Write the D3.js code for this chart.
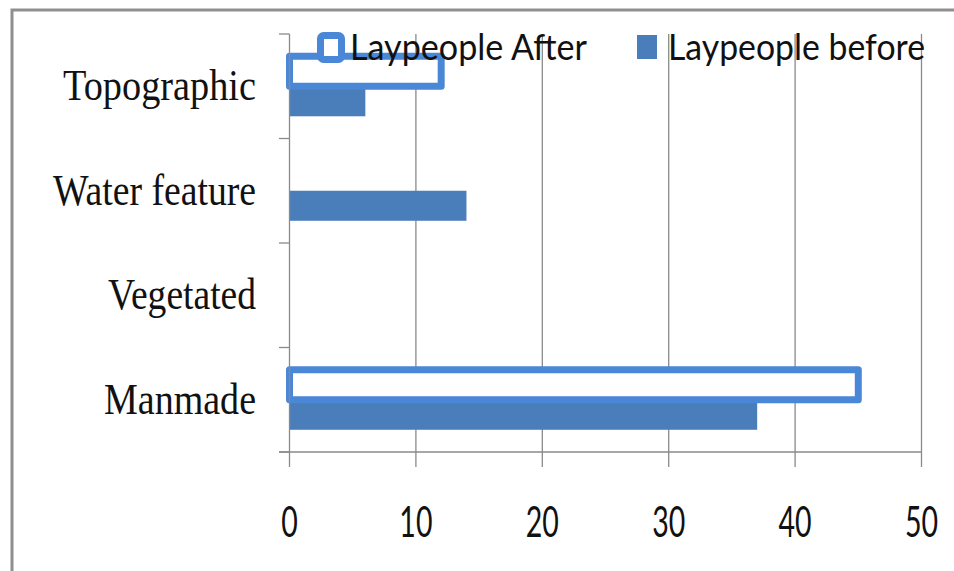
<!DOCTYPE html>
<html>
<head>
<meta charset="utf-8">
<script src="https://cdn.jsdelivr.net/npm/d3@7"></script>
<style>
  html, body { margin: 0; padding: 0; background: #fff; }
  svg { display: block; }
  .gridline, .axis-line, .tick-line { stroke: #8a8a8a; stroke-width: 1.3; }
  .cat-label { font-family: "Liberation Serif", "Times New Roman", serif; font-size: 44px; fill: #111; }
  .num-label { font-family: Lato, "Open Sans", sans-serif; font-size: 42px; fill: #111; }
  .legend-label { font-family: Lato, "Open Sans", sans-serif; font-size: 37px; fill: #111; }
</style>
</head>
<body>
<div id="chart"></div>
<script>
// Categories top to bottom, as in the picture.
const categories = ["Topographic", "Water feature", "Vegetated", "Manmade"];
const afterValues = [12, 0, 0, 45];
const beforeValues = [6, 14, 0, 37];
const xTicks = [0, 10, 20, 30, 40, 50];
const seriesNames = ["Laypeople After", "Laypeople before"];

const width = 954, height = 571;
const outline = "#4a87d6", fill = "#4a7ebb";

const svg = d3.select("#chart").append("svg")
  .attr("width", width).attr("height", height)
  .attr("viewBox", `0 0 ${width} ${height}`);

// outer chart frame, cut off at right and bottom
svg.append("rect").attr("x", 12).attr("y", 10).attr("width", width + 20).attr("height", height + 20)
  .attr("fill", "#fff").attr("stroke", "#8f8f8f").attr("stroke-width", 3);

const x = d3.scaleLinear([0, 50], [289.5, 921.5]);
const y = d3.scaleBand(categories, [34, 452]);
// two bars per category, 30px each, centred in the band
const sub = d3.scaleBand(["after", "before"], [0, y.bandwidth()]).paddingOuter(0.74);

// vertical gridlines
svg.append("g").selectAll("line").data(xTicks.slice(1)).join("line")
  .attr("class", "gridline")
  .attr("x1", (d) => x(d)).attr("x2", (d) => x(d))
  .attr("y1", 34).attr("y2", 452);

// "before" bars first, the outlined "after" bars sit on top of them
const rows = categories.map((c, i) => ({ c, after: afterValues[i], before: beforeValues[i] }));

svg.append("g").selectAll("rect").data(rows.filter((r) => r.before > 0)).join("rect")
  .attr("x", x(0)).attr("width", (r) => x(r.before) - x(0))
  .attr("y", (r) => y(r.c) + sub("before")).attr("height", sub.bandwidth())
  .attr("fill", fill);

svg.append("g").selectAll("rect").data(rows.filter((r) => r.after > 0)).join("rect")
  .attr("x", x(0)).attr("width", (r) => x(r.after) - x(0))
  .attr("y", (r) => y(r.c) + sub("after")).attr("height", sub.bandwidth())
  .attr("fill", "#fff").attr("stroke", outline).attr("stroke-width", 7)
  .attr("stroke-linejoin", "round");

// y axis (category) with ticks on band boundaries
svg.append("line").attr("class", "axis-line")
  .attr("x1", x(0)).attr("x2", x(0)).attr("y1", 34).attr("y2", 452);
const bounds = categories.map((c) => y(c)).concat([452]);
svg.append("g").selectAll("line").data(bounds).join("line")
  .attr("class", "tick-line")
  .attr("x1", 279).attr("x2", x(0)).attr("y1", (d) => d).attr("y2", (d) => d);

// category labels: narrow serif, right aligned
const catWidths = { "Topographic": 193, "Water feature": 203, "Vegetated": 148, "Manmade": 152 };
svg.append("g").selectAll("text").data(categories).join("text")
  .attr("class", "cat-label")
  .attr("x", 256).attr("y", (c) => y(c) + y.bandwidth() / 2 + 14)
  .attr("text-anchor", "end")
  .attr("textLength", (c) => catWidths[c]).attr("lengthAdjust", "spacingAndGlyphs")
  .text((c) => c);

// x axis
svg.append("line").attr("class", "axis-line")
  .attr("x1", 279).attr("x2", x(50)).attr("y1", 452).attr("y2", 452);
const xt = svg.append("g").selectAll("g").data(xTicks).join("g")
  .attr("transform", (d) => `translate(${x(d)},452)`);
xt.append("line").attr("class", "tick-line").attr("y1", 0).attr("y2", 15);
xt.append("text").attr("class", "num-label")
  .attr("text-anchor", "middle").attr("y", 85)
  .attr("transform", "scale(0.68,1)")
  .text((d) => d);

// legend
const lg = svg.append("g");
lg.append("rect").attr("x", 320.5).attr("y", 35.5).attr("width", 21).attr("height", 24).attr("rx", 3)
  .attr("fill", "#fff").attr("stroke", outline).attr("stroke-width", 7);
lg.append("text").attr("class", "legend-label").attr("x", 350).attr("y", 60)
  .attr("textLength", 237).attr("lengthAdjust", "spacingAndGlyphs").text(seriesNames[0]);
lg.append("rect").attr("x", 637).attr("y", 35).attr("width", 20).attr("height", 24).attr("fill", fill);
lg.append("text").attr("class", "legend-label").attr("x", 668).attr("y", 60)
  .attr("textLength", 257).attr("lengthAdjust", "spacingAndGlyphs").text(seriesNames[1]);
</script>
</body>
</html>
